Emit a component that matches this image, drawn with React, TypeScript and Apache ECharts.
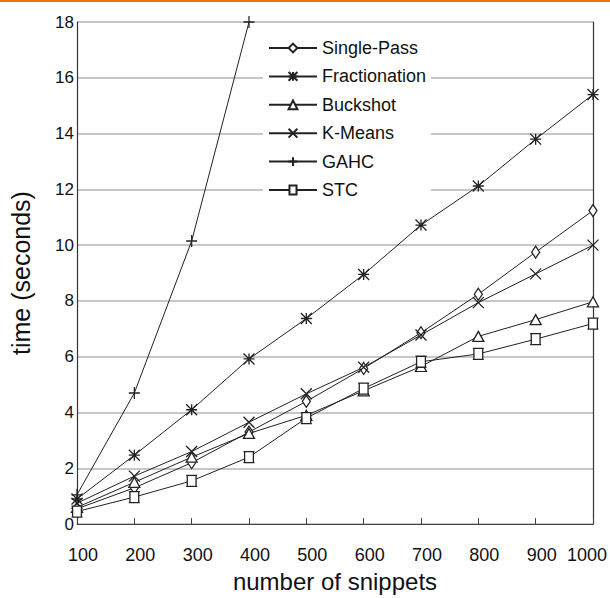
import React, { useEffect, useRef } from "react";
import * as echarts from "echarts";

const snippets = [100, 200, 300, 400, 500, 600, 700, 800, 900, 1000];
const singlePass = [0.55, 1.3, 2.2, 3.3, 4.4, 5.58, 6.86, 8.24, 9.75, 11.24];
const fractionation = [0.9, 2.47, 4.1, 5.92, 7.37, 8.95, 10.72, 12.12, 13.8, 15.4];
const buckshot = [0.6, 1.5, 2.4, 3.25, 3.9, 4.78, 5.65, 6.73, 7.33, 7.97];
const kMeans = [0.75, 1.72, 2.6, 3.65, 4.67, 5.62, 6.78, 7.94, 8.97, 10.0];
const gahc = [1.05, 4.7, 10.15, 18.0];
const stc = [0.45, 0.97, 1.55, 2.4, 3.8, 4.86, 5.82, 6.1, 6.63, 7.19];
const yTicks = [0, 2, 4, 6, 8, 10, 12, 14, 16, 18];

const INK = "#222";

const seriesDefs = [
  { name: "Single-Pass", data: singlePass, symbol: "path://M5,0L10,7L5,14L0,7Z", size: [8, 12] },
  {
    name: "Fractionation",
    data: fractionation,
    symbol: "path://M0,0L10,10M10,0L0,10M0,5L10,5M5,0L5,10",
    size: [11, 11],
  },
  { name: "Buckshot", data: buckshot, symbol: "path://M5,0L10,9L0,9Z", size: [11, 10] },
  { name: "K-Means", data: kMeans, symbol: "path://M0,0L10,10M10,0L0,10", size: [11, 11] },
  { name: "GAHC", data: gahc, symbol: "path://M5,0L5,10M0,5L10,5", size: [11, 12] },
  {
    name: "STC",
    data: stc,
    symbol: "path://M1,1L9,1L9,9L1,9ZM0,1L10,1M0,9L10,9",
    size: [11, 11],
  },
];

export default function App() {
  const ref = useRef<HTMLDivElement>(null);
  useEffect(() => {
    if (!ref.current) return;
    const chart = echarts.init(ref.current, null, { renderer: "svg" });
    const font = "'Liberation Sans', Arial, sans-serif";
    chart.setOption({
      animation: false,
      backgroundColor: "#fff",
      textStyle: { fontFamily: font, color: "#111" },
      graphic: [
        { type: "rect", left: 0, top: 0, shape: { width: 610, height: 2 }, style: { fill: "#E8740C" } },
      ],
      grid: { left: 66, right: 16, top: 22, bottom: 68 },
      legend: {
        orient: "vertical",
        left: 263,
        top: 36,
        padding: [3, 5, 3, 5],
        backgroundColor: "#fff",
        itemWidth: 48,
        itemHeight: 11,
        itemGap: 10.4,
        lineStyle: { width: 2 },
        textStyle: { fontFamily: font, fontSize: 18, color: "#111", lineHeight: 18 },
        data: seriesDefs.map((s) => s.name),
      },
      xAxis: {
        type: "value",
        min: 100,
        max: 1000,
        interval: 100,
        name: "number of snippets",
        nameLocation: "middle",
        nameGap: 38,
        nameTextStyle: { fontSize: 24, color: "#111", fontFamily: font },
        axisLine: { show: true, lineStyle: { color: "#444", width: 1.2 } },
        axisTick: { show: true, inside: true, length: 6, lineStyle: { color: "#444" } },
        splitLine: { show: false },
        axisLabel: {
          margin: 22,
          fontSize: 18,
          color: "#111",
          formatter: (v: number) => (v === 1000 ? `{e|${v}}` : `{n|${v}}`),
          rich: {
            n: { fontSize: 18, fontFamily: font, color: "#111", padding: [0, 0, 0, 12] },
            e: { fontSize: 18, fontFamily: font, color: "#111", padding: [0, 12, 0, 0] },
          },
        },
      },
      yAxis: [
        {
          type: "value",
          min: 0,
          max: 18,
          interval: 2,
          name: "time (seconds)",
          nameLocation: "middle",
          nameGap: 44,
          nameTextStyle: { fontSize: 25, color: "#111", fontFamily: font },
          axisLine: { show: true, lineStyle: { color: "#333", width: 1.2 } },
          axisTick: { show: false },
          splitLine: { show: true, lineStyle: { color: "#b4b4b4", width: 1.5 } },
          axisLabel: {
            margin: 3,
            fontSize: 17,
            color: "#111",
            formatter: (v: number) => (yTicks.includes(v) ? String(v) : ""),
          },
        },
        {
          type: "value",
          min: 0,
          max: 18,
          interval: 2,
          position: "right",
          axisLine: { show: true, lineStyle: { color: "#333", width: 1.2 } },
          axisTick: { show: false },
          axisLabel: { show: false },
          splitLine: { show: false },
        },
      ],
      series: seriesDefs.map((s) => ({
        name: s.name,
        type: "line",
        data: s.data.map((v, i) => [snippets[i], v]),
        symbol: s.symbol,
        symbolSize: s.size,
        showAllSymbol: true,
        color: INK,
        lineStyle: { color: INK, width: 1 },
        itemStyle: { color: "#fff", borderColor: INK, borderWidth: 1.3 },
        emphasis: { disabled: true },
        z: 3,
      })),
    });
    return () => chart.dispose();
  }, []);
  return (
    <div
      ref={ref}
      style={{ position: "fixed", left: 0, top: 0, width: 610, height: 598, background: "#fff" }}
    />
  );
}
